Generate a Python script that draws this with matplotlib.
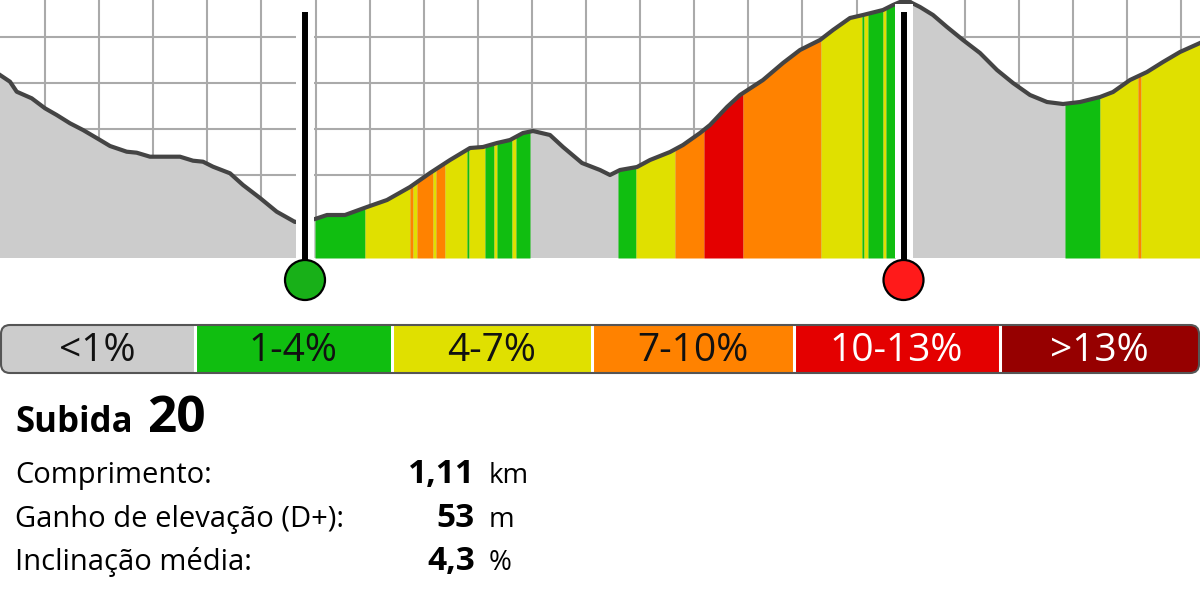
import numpy as np
import matplotlib
matplotlib.use("Agg")
from matplotlib import pyplot as plt
from matplotlib.patches import Rectangle, Circle, FancyBboxPatch

plt.rcParams['font.family'] = ['Open Sans', 'DejaVu Sans']

# elevation profile (chart units, 1 unit ~ 1 px)
dist = [0, 10, 16.7, 31.7, 45, 56.7, 70, 83, 100, 110, 126.7, 136.7, 150, 180, 193, 203,
        213, 230, 243, 260, 276.7, 295,
        315, 327, 345, 367, 387, 410, 430, 450, 470, 483, 497, 510, 523, 533, 550, 563,
        582, 600, 610, 620, 637, 650, 670, 683, 700, 710, 727, 740, 763, 783, 800, 820,
        833, 850, 863, 883, 893, 900, 910, 920, 933, 947, 963, 980, 997, 1013, 1030,
        1047, 1063, 1080, 1100, 1113, 1130, 1147, 1163, 1180, 1200]
elev = [183, 176.3, 166.3, 159.7, 149.7, 143, 134.7, 128, 118, 112, 106.3, 105.3, 101.3,
        101.3, 97.3, 96.3, 91.3, 84.7, 73, 60, 46.3, 36,
        39, 43, 43, 51, 58, 71, 85, 98, 110, 111, 115, 118, 125, 127, 123, 111,
        95, 88, 83, 88, 91, 98, 106, 113, 125, 133, 151, 163, 178, 195, 208, 218,
        228, 240, 243, 248, 253, 256, 256, 251, 243, 231, 218, 205, 188, 175, 163,
        156, 154, 156, 161, 166, 178, 186, 196, 206, 215]

# gradient bands along the profile (category index into cat_colors)
band_start = [315, 365, 410, 413, 417, 433, 436, 445, 467, 469, 485, 494, 497, 512, 516,
              618, 636, 675, 704, 743, 821, 862, 864, 868, 883, 886,
              1065, 1100, 1138, 1141]
band_end = [365, 410, 413, 417, 433, 436, 445, 467, 469, 485, 494, 497, 512, 516, 530,
            636, 675, 704, 743, 821, 862, 864, 868, 883, 886, 895,
            1100, 1138, 1141, 1200]
band_cat = [1, 2, 3, 2, 3, 2, 3, 2, 1, 2, 1, 2, 1, 2, 1,
            1, 2, 3, 4, 3, 2, 1, 2, 1, 2, 1,
            1, 2, 3, 2]

cat_labels = ["<1%", "1-4%", "4-7%", "7-10%", "10-13%", ">13%"]
cat_colors = ["#cccccc", "#10be10", "#e0e000", "#ff8200", "#e40000", "#960000"]
cat_text = ["#111111", "#111111", "#111111", "#111111", "white", "white"]
legend_edges = [0, 194.5, 392, 591.5, 793.5, 999.5, 1200]

start_x = 305
end_x = 903.5

climb_no = "20"
row_labels = ["Comprimento:", "Ganho de elevação (D+):", "Inclinação média:"]
row_values = ["1,11", "53", "4,3"]
row_units = ["km", "m", "%"]

TOP = 258

fig = plt.figure(figsize=(12, 6), dpi=100)

# ---- profile ----
ax = fig.add_axes([0, 0.5, 1, 0.5])
ax.set_xlim(0, 1200)
ax.set_ylim(-42, TOP)
ax.axis("off")

for k in range(22):
    ax.plot([45 + 54.1 * k] * 2, [0, TOP], color="#aaaaaa", lw=1.5,
            solid_capstyle="butt", zorder=1)
for h in [220.7, 174.7, 128.7, 82.7, 36.7]:
    ax.plot([0, 1200], [h, h], color="#aaaaaa", lw=1.5, solid_capstyle="butt", zorder=1)

d = np.array(dist, dtype=float)
e = np.array(elev, dtype=float)
ax.fill_between(d, 0, e, color=cat_colors[0], lw=0, zorder=2)
for a, b, c in zip(band_start, band_end, band_cat):
    inside = (d > a) & (d < b)
    xs = np.concatenate([[a], d[inside], [b]])
    ys = np.interp(xs, d, e)
    ax.fill_between(xs, 0, ys, color=cat_colors[c], lw=0, zorder=3)
ax.plot(d, e, color="#444444", lw=3, solid_joinstyle="round", zorder=4)

for mx, mc in [(start_x, "#18b018"), (end_x, "#ff1a1a")]:
    ax.add_patch(Rectangle((mx - 9, 0), 18, 254, color="white", lw=0, zorder=5))
    ax.plot([mx, mx], [246, -22], color="black", lw=4.3, solid_capstyle="butt", zorder=6)
    ax.add_patch(Circle((mx, -22), 20, facecolor=mc, edgecolor="black", lw=1.6,
                        zorder=7, clip_on=False))

# ---- legend bar and text ----
info = fig.add_axes([0, 0, 1, 1], facecolor="none")
info.set_xlim(0, 1200)
info.set_ylim(600, 0)
info.axis("off")

box = FancyBboxPatch((1, 325), 1198, 48, boxstyle="round,pad=0,rounding_size=9",
                     facecolor="none", edgecolor="#555555", lw=1.5, zorder=4)
info.add_patch(box)
for i in range(6):
    x0, x1 = legend_edges[i], legend_edges[i + 1]
    r = Rectangle((x0, 325), x1 - x0, 48, color=cat_colors[i], lw=0, zorder=2)
    info.add_patch(r)
    r.set_clip_path(box)
    info.text((x0 + x1) / 2, 351, cat_labels[i], color=cat_text[i], fontsize=28,
              ha="center", va="center", zorder=5)
for x in legend_edges[1:-1]:
    info.plot([x, x], [325, 373], color="white", lw=2.2, zorder=3)

info.text(15, 432, "Subida", fontsize=25, fontweight="bold", va="baseline")
info.text(147, 432, climb_no, fontsize=37, fontweight="bold", va="baseline")
for i, y in enumerate([483, 527, 570]):
    info.text(15, y, row_labels[i], fontsize=21, va="baseline")
    info.text(475, y, row_values[i], fontsize=24, fontweight="bold", ha="right", va="baseline")
    info.text(489, y, row_units[i], fontsize=20, va="baseline")

fig.savefig("out.png", dpi=100)
